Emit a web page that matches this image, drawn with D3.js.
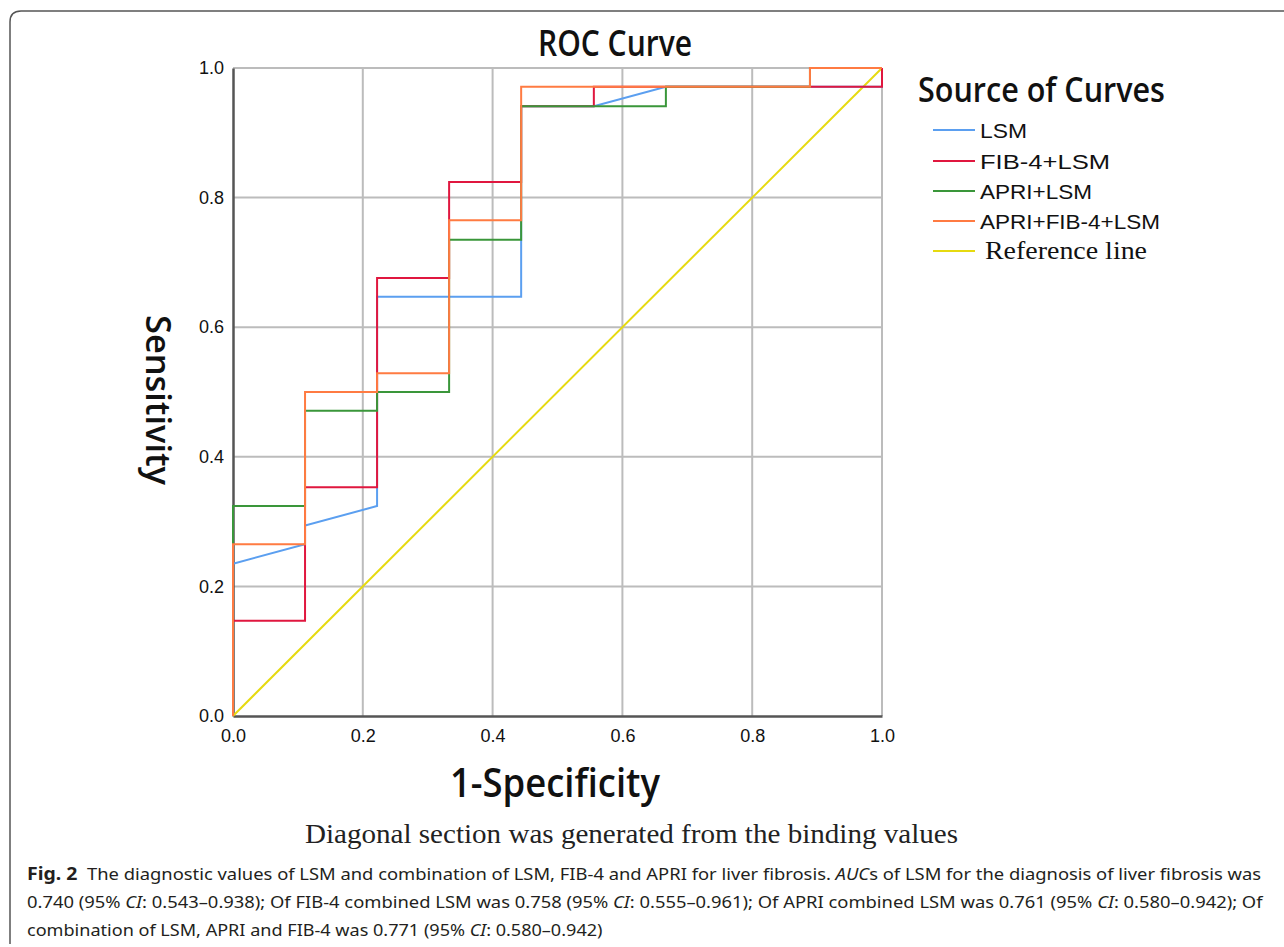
<!DOCTYPE html>
<html>
<head>
<meta charset="utf-8">
<script src="https://cdn.jsdelivr.net/npm/d3@7.9.0/dist/d3.min.js"></script>
<style>
  body { margin: 0; background: #fff; }
  svg { display: block; }
</style>
</head>
<body>
<svg id="chart"></svg>
<script>
// --- Data ---
const lsmX = [0, 0, 0.111, 0.111, 0.222, 0.222, 0.444, 0.444, 0.556, 0.667, 1, 1];
const lsmY = [0, 0.235, 0.265, 0.294, 0.324, 0.647, 0.647, 0.941, 0.941, 0.971, 0.971, 1];

const fibX = [0, 0, 0.111, 0.111, 0.222, 0.222, 0.333, 0.333, 0.444, 0.444, 0.556, 0.556, 1, 1];
const fibY = [0, 0.147, 0.147, 0.353, 0.353, 0.676, 0.676, 0.824, 0.824, 0.941, 0.941, 0.971, 0.971, 1];

const apriX = [0, 0, 0.111, 0.111, 0.222, 0.222, 0.333, 0.333, 0.444, 0.444, 0.667, 0.667, 0.889, 0.889, 1];
const apriY = [0, 0.324, 0.324, 0.471, 0.471, 0.5, 0.5, 0.735, 0.735, 0.941, 0.941, 0.971, 0.971, 1, 1];

const allX = [0, 0, 0.111, 0.111, 0.222, 0.222, 0.333, 0.333, 0.444, 0.444, 0.889, 0.889, 1];
const allY = [0, 0.265, 0.265, 0.5, 0.5, 0.529, 0.529, 0.765, 0.765, 0.971, 0.971, 1, 1];

const refX = [0, 1];
const refY = [0, 1];

const seriesNames = ["LSM", "FIB-4+LSM", "APRI+LSM", "APRI+FIB-4+LSM", "Reference line"];
const seriesColors = ["#5b9ff0", "#e0173f", "#3a963a", "#ff7b42", "#e6da10"];
const ticks = [0, 0.2, 0.4, 0.6, 0.8, 1.0];

const width = 1284, height = 947;
const svg = d3.select("#chart").attr("width", width).attr("height", height);

// frame around figure (rounded top-left corner)
svg.append("path")
  .attr("d", "M10,944 Q10,940 10,934 L10,22 Q10,11 21,11 L1284,11")
  .attr("fill", "none")
  .attr("stroke", "#555")
  .attr("stroke-width", 1.5);

// --- Scales ---
const x = d3.scaleLinear().domain([0, 1]).range([233, 882]);
const y = d3.scaleLinear().domain([0, 1]).range([716, 68]);

// grid
const grid = svg.append("g");
grid.selectAll(".gx").data(ticks.slice(1)).join("line")
  .attr("x1", d => x(d)).attr("x2", d => x(d))
  .attr("y1", y(0)).attr("y2", y(1))
  .attr("stroke", "#bcbcbc").attr("stroke-width", 2);
grid.selectAll(".gy").data(ticks.slice(1)).join("line")
  .attr("x1", x(0)).attr("x2", x(1))
  .attr("y1", d => y(d)).attr("y2", d => y(d))
  .attr("stroke", "#bcbcbc").attr("stroke-width", 2);

// axes
const yAxis = svg.append("g")
  .attr("transform", `translate(${x(0)},0)`)
  .call(d3.axisLeft(y).tickValues(ticks).tickFormat(d3.format(".1f")).tickSize(0).tickPadding(9));
const xAxis = svg.append("g")
  .attr("transform", `translate(0,${y(0)})`)
  .call(d3.axisBottom(x).tickValues(ticks).tickFormat(d3.format(".1f")).tickSize(0).tickPadding(13));
[xAxis, yAxis].forEach(a => {
  a.select(".domain").attr("stroke", "#555").attr("stroke-width", 2.5);
  a.selectAll("text")
    .attr("font-family", "'Liberation Sans', Arial, sans-serif")
    .attr("font-size", 18)
    .attr("fill", "#111");
});

// --- Curves ---
const line = d3.line().x(d => x(d[0])).y(d => y(d[1]));
const curves = [
  [lsmX, lsmY], [fibX, fibY], [apriX, apriY], [allX, allY], [refX, refY]
];
const order = [4, 0, 1, 2, 3];
svg.append("g").selectAll("path")
  .data(order)
  .join("path")
  .attr("d", i => line(d3.zip(curves[i][0], curves[i][1])))
  .attr("fill", "none")
  .attr("stroke", i => seriesColors[i])
  .attr("stroke-width", 2)
  .attr("stroke-linejoin", "miter");

// --- Titles ---
function fitText(sel, len) {
  return sel.attr("textLength", len).attr("lengthAdjust", "spacingAndGlyphs");
}
const titleFont = "'Open Sans', 'Noto Sans', sans-serif";

fitText(svg.append("text")
  .attr("x", 538).attr("y", 56)
  .attr("font-family", titleFont).attr("font-weight", 600).attr("font-size", 36)
  .attr("fill", "#111").text("ROC Curve"), 154);

fitText(svg.append("text")
  .attr("transform", "translate(146,315) rotate(90)")
  .attr("font-family", titleFont).attr("font-weight", 600).attr("font-size", 34)
  .attr("fill", "#111").text("Sensitivity"), 170);

fitText(svg.append("text")
  .attr("x", 450).attr("y", 797)
  .attr("font-family", titleFont).attr("font-weight", 600).attr("font-size", 39)
  .attr("fill", "#111").text("1-Specificity"), 210);

// --- Legend ---
fitText(svg.append("text")
  .attr("x", 918).attr("y", 102)
  .attr("font-family", titleFont).attr("font-weight", 600).attr("font-size", 35)
  .attr("fill", "#111").text("Source of Curves"), 247);

const legendY = [130, 161, 191, 221, 251];
const legendTextLen = [47, 130, 112, 180, 162];
const leg = svg.append("g").selectAll("g")
  .data(seriesNames)
  .join("g")
  .attr("transform", (d, i) => `translate(0,${legendY[i]})`);
leg.append("line")
  .attr("x1", 933).attr("x2", 975)
  .attr("stroke", (d, i) => seriesColors[i]).attr("stroke-width", 2);
leg.append("text")
  .attr("x", (d, i) => i === 4 ? 985 : 980)
  .attr("y", 8)
  .attr("font-family", (d, i) => i === 4 ? "'Liberation Serif', 'Times New Roman', serif" : "'Liberation Sans', Arial, sans-serif")
  .attr("font-size", (d, i) => i === 4 ? 26 : 21)
  .attr("fill", "#111")
  .attr("textLength", (d, i) => legendTextLen[i])
  .attr("lengthAdjust", "spacingAndGlyphs")
  .text(d => d);

// --- Footnote inside the figure ---
fitText(svg.append("text")
  .attr("x", 305).attr("y", 843)
  .attr("font-family", "'Liberation Serif', 'Times New Roman', serif")
  .attr("font-size", 27).attr("fill", "#222")
  .text("Diagonal section was generated from the binding values"), 653);

// --- Caption ---
const captionLines = [
  [["Fig. 2", "b"], ["  The diagnostic values of LSM and combination of LSM, FIB-4 and APRI for liver fibrosis. ", ""], ["AUC", "i"], ["s of LSM for the diagnosis of liver fibrosis was", ""]],
  [["0.740 (95% ", ""], ["CI", "i"], [": 0.543–0.938); Of FIB-4 combined LSM was 0.758 (95% ", ""], ["CI", "i"], [": 0.555–0.961); Of APRI combined LSM was 0.761 (95% ", ""], ["CI", "i"], [": 0.580–0.942); Of", ""]],
  [["combination of LSM, APRI and FIB-4 was 0.771 (95% ", ""], ["CI", "i"], [": 0.580–0.942)", ""]]
];
const captionWidth = [1235, 1237, 576];
const captionBase = [880, 908, 936];

captionLines.forEach((parts, li) => {
  const t = svg.append("text")
    .attr("x", 0).attr("y", 0)
    .attr("font-family", "'Noto Sans', 'Open Sans', sans-serif")
    .attr("font-size", 17)
    .attr("fill", "#231f20")
    .attr("xml:space", "preserve")
    .style("white-space", "pre");
  parts.forEach(([s, st]) => {
    const ts = t.append("tspan").text(s);
    if (st === "b") ts.attr("font-weight", 700).attr("font-size", 18);
    if (st === "i") ts.attr("font-style", "italic");
  });
  const w = t.node().getComputedTextLength();
  t.attr("transform", `translate(27,${captionBase[li]}) scale(${captionWidth[li] / w},1)`);
});
</script>
</body>
</html>
